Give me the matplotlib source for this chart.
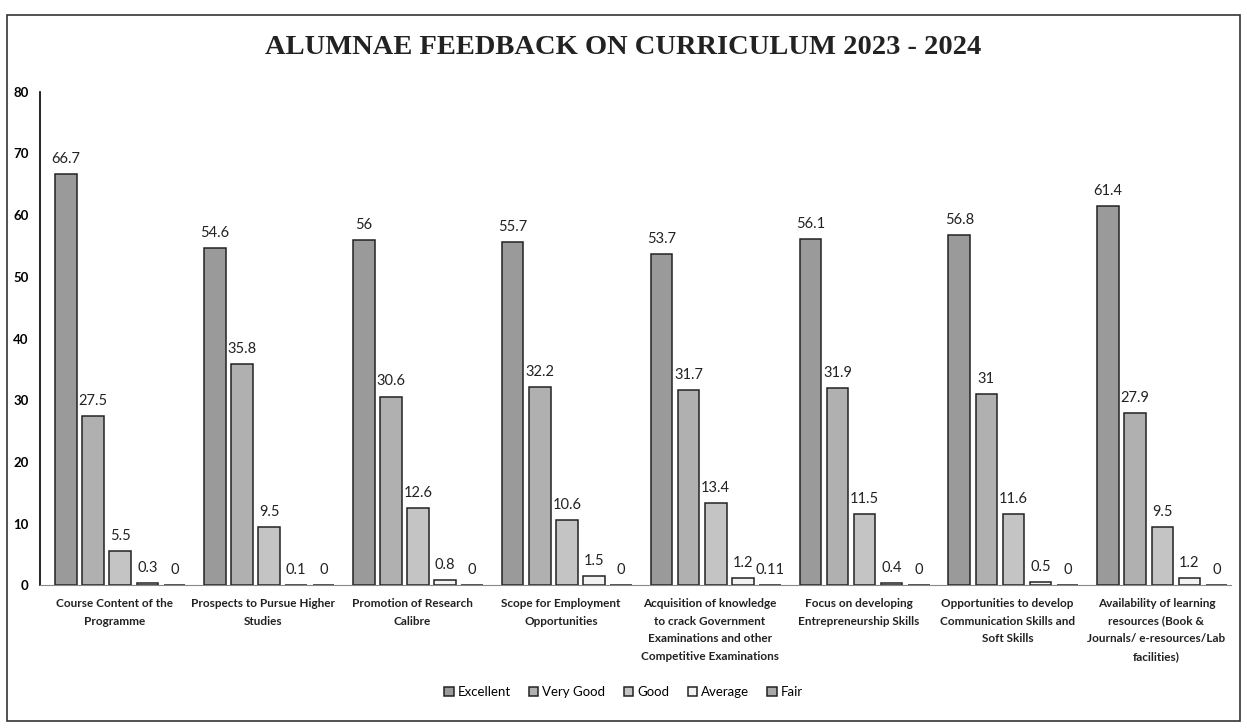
import numpy as np
import matplotlib.pyplot as plt
from matplotlib.patches import Rectangle

plt.rcParams['font.family'] = ['Lato', 'DejaVu Sans']

# Data
categories = ['Course Content of the\nProgramme',
              'Prospects to Pursue Higher\nStudies',
              'Promotion of Research\nCalibre',
              'Scope for Employment\nOpportunities',
              'Acquisition of knowledge\nto crack Government\nExaminations and other\nCompetitive Examinations',
              'Focus on developing\nEntrepreneurship Skills',
              'Opportunities to develop\nCommunication Skills and\nSoft Skills',
              'Availability of learning\nresources (Book &\nJournals/ e-resources/Lab\nfacilities)']
excellent = [66.7, 54.6, 56, 55.7, 53.7, 56.1, 56.8, 61.4]
very_good = [27.5, 35.8, 30.6, 32.2, 31.7, 31.9, 31, 27.9]
good = [5.5, 9.5, 12.6, 10.6, 13.4, 11.5, 11.6, 9.5]
average = [0.3, 0.1, 0.8, 1.5, 1.2, 0.4, 0.5, 1.2]
fair = [0, 0, 0, 0, 0.11, 0, 0, 0]

series = [('Excellent', excellent, '#9a9a9a'),
          ('Very Good', very_good, '#b0b0b0'),
          ('Good', good, '#c4c4c4'),
          ('Average', average, '#f2f2f2'),
          ('Fair', fair, '#a8a8a8')]

fig = plt.figure(figsize=(12.47, 7.28), dpi=100)
fig.patches.append(Rectangle((0.006, 0.01), 0.988, 0.97, transform=fig.transFigure,
                             fill=False, edgecolor='#333333', linewidth=1.2))
ax = fig.add_axes([0.032, 0.196, 0.955, 0.678])

x = np.arange(len(categories))
pitch = 0.182
width = 0.145
for i, (name, vals, col) in enumerate(series):
    pos = x + (i - 2) * pitch + 0.04
    bars = ax.bar(pos, vals, width, color=col, edgecolor='#222222', linewidth=1.1, label=name)
    for b, v in zip(bars, vals):
        ax.text(b.get_x() + b.get_width() / 2, v + 1.3, f'{v:g}', ha='center', va='bottom',
                fontsize=10.5, color='#222222')

ax.set_xlim(-0.5, len(categories) - 0.5)
ax.set_ylim(0, 80)
ax.set_yticks(range(0, 81, 10))
ax.tick_params(axis='y', length=0, labelsize=9.5, pad=8)
for t in ax.get_yticklabels():
    t.set_fontweight('bold')
ax.set_xticks(x)
ax.set_xticklabels(categories, fontsize=8.5, linespacing=1.75, fontweight='bold', color='#222222')
ax.tick_params(axis='x', length=0, pad=9)
for s in ['top', 'right']:
    ax.spines[s].set_visible(False)
ax.spines['left'].set_linewidth(1.2)
ax.spines['bottom'].set_color('#888888')

fig.text(0.5, 0.935, 'ALUMNAE FEEDBACK ON CURRICULUM 2023 - 2024', ha='center', va='center',
         fontsize=20.5, fontweight='bold', family='Liberation Serif', color='#222222')

fig.legend(loc='lower center', bbox_to_anchor=(0.5, 0.025), ncol=5, frameon=False,
           fontsize=9.5, handlelength=0.7, handleheight=0.7, handletextpad=0.3, columnspacing=1.4)

plt.savefig('out.png')
